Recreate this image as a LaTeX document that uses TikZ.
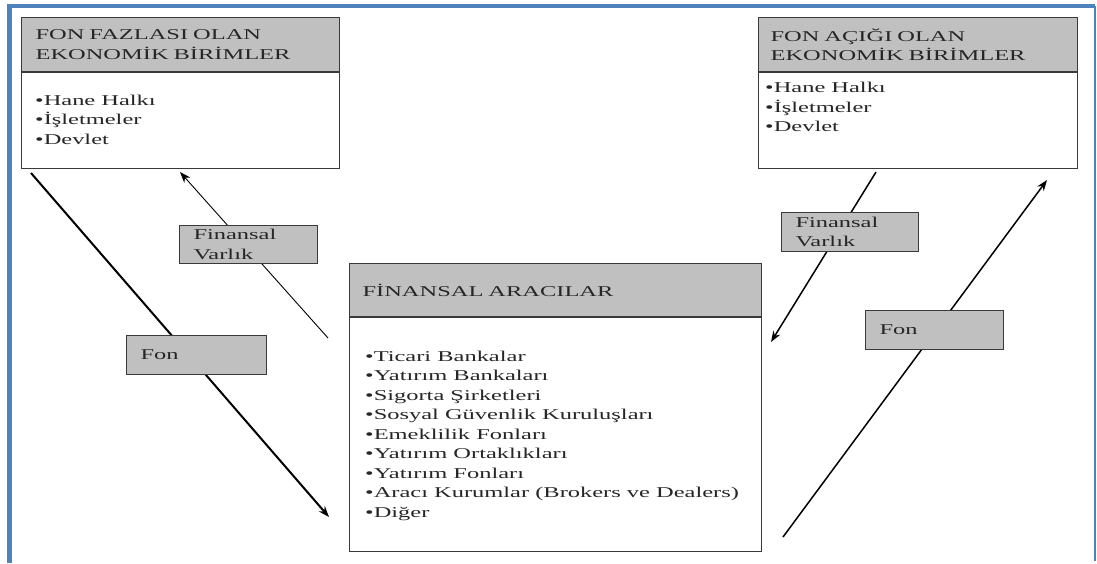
\documentclass[tikz,border=0pt]{standalone}
\usepackage{fontspec}
\setmainfont[FakeStretch=1.63]{Liberation Serif}
\usetikzlibrary{positioning,arrows.meta}

\definecolor{frameblue}{HTML}{4F81BD}
\definecolor{headgray}{HTML}{C0C0C0}
\definecolor{edgegray}{HTML}{3A3A3A}

\tikzset{
  every node/.style={font=\fontsize{15}{19.5}\selectfont, text=black!85},
  head/.style={draw=edgegray, line width=1.2pt, fill=headgray, anchor=north west,
    align=left, inner ysep=0pt, minimum height=54pt},
  body/.style={draw=edgegray, line width=1.2pt, fill=white, minimum height=#1, inner sep=0pt},
  items/.style={align=left, inner sep=0pt},
  flowtag/.style={draw=edgegray, line width=1pt, fill=headgray, anchor=north west,
    align=left, inner xsep=14pt, inner ysep=0pt, minimum height=39pt},
  flow/.style={line width=#1, -{Stealth[length=11pt,width=8pt]}},
}

\begin{document}
\begin{tikzpicture}[x=1pt,y=-1pt]
\useasboundingbox (0,0) rectangle (1097,563);
% blue frame
\draw[frameblue, line width=1.5pt] (1095,6) -- (1095,561);
\draw[frameblue, line width=3.5pt] (9,6) -- (1095,6);
\draw[frameblue, line width=5pt] (9.5,4) -- (9.5,563);

% units with surplus / deficit, intermediaries
\node[head, text width=290pt, inner xsep=14pt](surplus) at (21,17)
  {FON FAZLASI OLAN\\EKONOMİK BİRİMLER};
\node[body=96pt, minimum width=318pt, below=0pt of surplus](surplusB){};
\node[items, anchor=west](surplusL) at ([xshift=14pt,yshift=1pt]surplusB.west)
  {•Hane Halkı\\•İşletmeler\\•Devlet};

\node[head, text width=295pt, inner xsep=12pt](deficit) at (758,17)
  {FON AÇIĞI OLAN\\EKONOMİK BİRİMLER};
\node[body=96pt, minimum width=319pt, below=0pt of deficit](deficitB){};
\node[items, anchor=north west](deficitL) at ([xshift=7pt,yshift=-10pt]deficitB.north west)
  {•Hane Halkı\\•İşletmeler\\•Devlet};

\node[head, text width=386pt, inner xsep=13pt, minimum height=53pt](broker) at (349,263)
  {FİNANSAL ARACILAR};
\node[body=234pt, minimum width=412pt, below=0pt of broker](brokerB){};
\node[items, anchor=west](brokerL) at ([xshift=16pt,yshift=-1pt]brokerB.west)
  {•Ticari Bankalar\\•Yatırım Bankaları\\•Sigorta Şirketleri\\•Sosyal Güvenlik Kuruluşları\\
   •Emeklilik Fonları\\•Yatırım Ortaklıkları\\•Yatırım Fonları\\
   •Aracı Kurumlar (Brokers ve Dealers)\\•Diğer};

% flows
\coordinate (fonL1) at (31,173);
\coordinate (fonL2) at (329,517);
\coordinate (varL1) at (328,338);
\coordinate (varL2) at (180,172);
\coordinate (varR1) at (876,172);
\coordinate (varR2) at (771,342);
\coordinate (fonR1) at (783,537);
\coordinate (fonR2) at (1047,180);
\draw[flow=2pt] (fonL1) -- (fonL2);
\draw[flow=0.9pt] (varL1) -- (varL2);
\draw[flow=1.5pt] (varR1) -- (varR2);
\draw[flow=1.5pt] (fonR1) -- (fonR2);

\node[flowtag, minimum width=138pt, text width=110pt, minimum height=38pt](varLT) at (179,225){Finansal\\Varlık};
\node[flowtag, minimum width=140pt, text width=112pt](fonLT) at (126,335){Fon};
\node[flowtag, minimum width=137pt, text width=109pt](varRT) at (781,212){Finansal\\Varlık};
\node[flowtag, minimum width=138pt, text width=110pt](fonRT) at (865,310){Fon};
\end{tikzpicture}
\end{document}
